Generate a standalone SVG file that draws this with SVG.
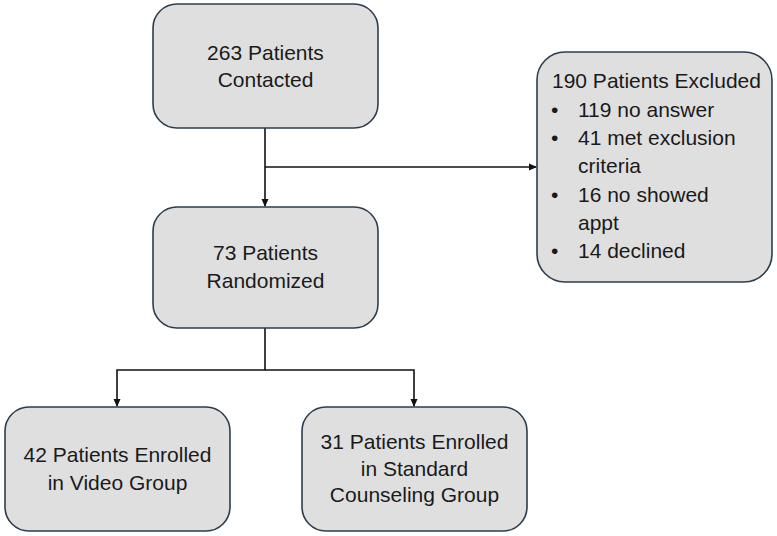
<svg xmlns="http://www.w3.org/2000/svg" width="777" height="536" viewBox="0 0 777 536">
<defs>
<style>
.box{fill:#e0dfe0;stroke:#2e3d4c;stroke-width:1.6}
.t{font-family:"Liberation Sans",Arial,sans-serif;font-size:21px;fill:#1a1a1a}
.c{text-anchor:middle}
.ln{fill:none;stroke:#111;stroke-width:1.6}
</style>
<marker id="ah" markerWidth="8" markerHeight="8" refX="7" refY="4" orient="auto" markerUnits="userSpaceOnUse">
<path d="M0,0.5 L8,4 L0,7.5 Z" fill="#111"/>
</marker>
</defs>
<rect width="777" height="536" fill="#fff"/>
<g id="connectors">
<line class="ln" x1="265" y1="128" x2="265" y2="206" marker-end="url(#ah)"/>
<line class="ln" x1="265" y1="167" x2="536" y2="167" marker-end="url(#ah)"/>
<polyline class="ln" points="265,328 265,370 117,370 117,406" marker-end="url(#ah)"/>
<polyline class="ln" points="265,370 414,370 414,406" marker-end="url(#ah)"/>
</g>
<g id="contacted">
<rect class="box" x="153" y="4" width="225" height="124" rx="24"/>
<text class="t c" x="265.5" y="60">263 Patients</text>
<text class="t c" x="265.5" y="87">Contacted</text>
</g>
<g id="randomized">
<rect class="box" x="153" y="207" width="225" height="121" rx="24"/>
<text class="t c" x="265.5" y="260">73 Patients</text>
<text class="t c" x="265.5" y="288">Randomized</text>
</g>
<g id="excluded">
<rect class="box" x="537" y="52" width="235" height="230" rx="28"/>
<text class="t" x="552" y="88">190 Patients Excluded</text>
<text class="t" x="551" y="116.5">•</text><text class="t" x="578" y="116.5">119 no answer</text>
<text class="t" x="551" y="145">•</text><text class="t" x="578" y="145">41 met exclusion</text>
<text class="t" x="578" y="173">criteria</text>
<text class="t" x="551" y="201.5">•</text><text class="t" x="578" y="201.5">16 no showed</text>
<text class="t" x="578" y="230">appt</text>
<text class="t" x="551" y="258">•</text><text class="t" x="578" y="258">14 declined</text>
</g>
<g id="video">
<rect class="box" x="5" y="407" width="225" height="124" rx="24"/>
<text class="t c" x="117.5" y="462">42 Patients Enrolled</text>
<text class="t c" x="117.5" y="490">in Video Group</text>
</g>
<g id="standard">
<rect class="box" x="302" y="407" width="225" height="124" rx="24"/>
<text class="t c" x="414.5" y="449">31 Patients Enrolled</text>
<text class="t c" x="414.5" y="476">in Standard</text>
<text class="t c" x="414.5" y="502">Counseling Group</text>
</g>
</svg>
